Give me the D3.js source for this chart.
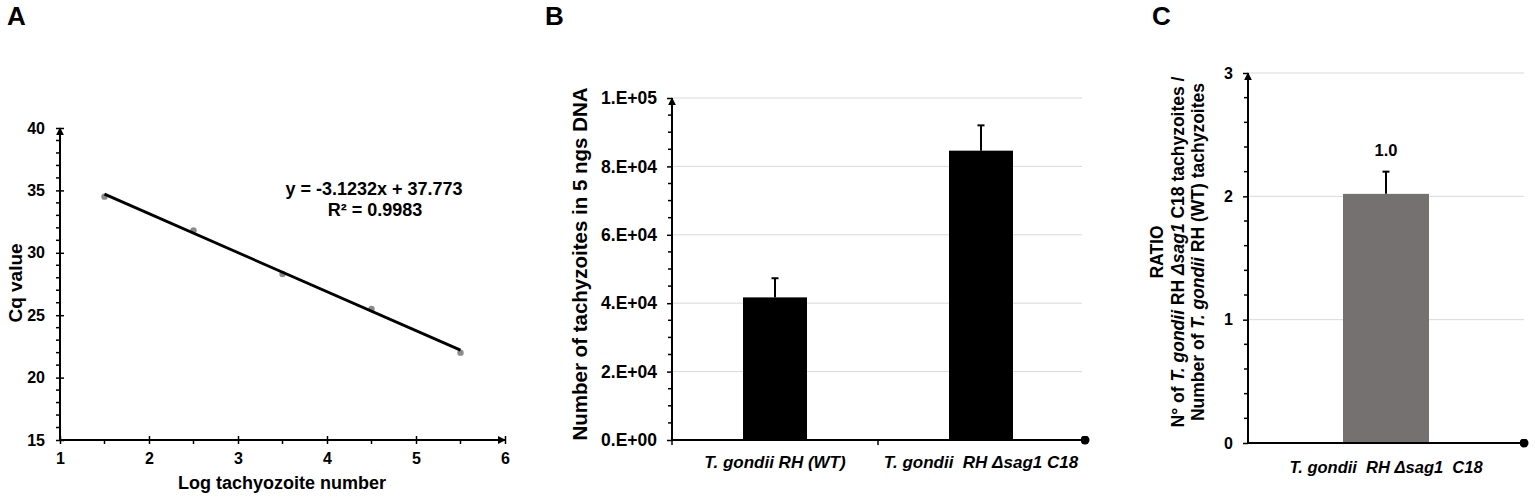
<!DOCTYPE html>
<html><head><meta charset="utf-8">
<script src="https://cdn.jsdelivr.net/npm/d3@7"></script>
<style>
html,body{margin:0;padding:0;background:#fff;}
svg{display:block;font-family:"Liberation Sans",Arial,sans-serif;}
text{fill:#000;}
</style></head>
<body>
<svg id="chart" width="1535" height="504"></svg>
<script>
// ---------- DATA ----------
// Panel A: standard curve
const logTachyzoites = [1.5, 2.5, 3.5, 4.5, 5.5];
const cqValues = [34.5, 31.8, 28.3, 25.5, 22.0];
const trendX = [1.5, 5.5];
const trendY = [34.7, 22.2];
const trendEquation = "y = -3.1232x + 37.773";
const trendR2 = "R² = 0.9983";
const xTicksA = [1, 2, 3, 4, 5, 6];
const yTicksA = [15, 20, 25, 30, 35, 40];

// Panel B: number of tachyzoites
const strainsB = ["T. gondii RH (WT)", "T. gondii  RH Δsag1 C18"];
const countsB = [41700, 84600];
const errorsB = [5600, 7400];
const yTicksB = [0, 20000, 40000, 60000, 80000, 100000];
const yTickLabelsB = ["0.E+00", "2.E+04", "4.E+04", "6.E+04", "8.E+04", "1.E+05"];

// Panel C: ratio
const strainsC = ["T. gondii  RH Δsag1  C18"];
const ratioC = [2.02];
const errorsC = [0.18];
const ratioLabels = ["1.0"];
const yTicksC = [0, 1, 2, 3];

// ---------- DRAWING ----------
const svg = d3.select("#chart");
const FONT = '"Liberation Sans",Arial,sans-serif';

const defs = svg.append("defs");
defs.append("marker").attr("id","arrow").attr("viewBox","0 0 10 10")
  .attr("refX",9).attr("refY",5).attr("markerWidth",4).attr("markerHeight",4)
  .attr("orient","auto").attr("markerUnits","strokeWidth")
  .append("path").attr("d","M0,0 L10,5 L0,10 z").attr("fill","#000");
defs.append("marker").attr("id","dot").attr("viewBox","0 0 10 10")
  .attr("refX",5).attr("refY",5).attr("markerWidth",4.5).attr("markerHeight",4.5)
  .attr("markerUnits","strokeWidth")
  .append("circle").attr("cx",5).attr("cy",5).attr("r",5).attr("fill","#000");

function panelLabel(t, x, y){
  svg.append("text").attr("x",x).attr("y",y).text(t)
    .attr("font-size",26).attr("font-weight","bold");
}
panelLabel("A", 7, 25);
panelLabel("B", 545, 25);
panelLabel("C", 1152, 25);

function styleTicks(g, size){
  g.select(".domain").remove();
  g.selectAll(".tick line").attr("stroke","#000").attr("stroke-width",1.5);
  g.selectAll(".tick text").attr("font-family",FONT).attr("font-size",size)
    .attr("font-weight","bold").attr("fill","#000");
}

// ===== Panel A =====
const xA = d3.scaleLinear().domain([1,6]).range([60,505]);
const yA = d3.scaleLinear().domain([15,40]).range([440,128]);
const gA = svg.append("g");

const yMinorA = d3.range(15,40,1).filter(v=>v%5!==0);
gA.selectAll(".ymA").data(yMinorA).join("line")
  .attr("x1",xA(1)-4).attr("x2",xA(1)).attr("y1",d=>yA(d)).attr("y2",d=>yA(d))
  .attr("stroke","#000").attr("stroke-width",1.5);
const xMinorA = d3.range(1.5,6,1);
gA.selectAll(".xmA").data(xMinorA).join("line")
  .attr("x1",d=>xA(d)).attr("x2",d=>xA(d)).attr("y1",yA(15)).attr("y2",yA(15)+4)
  .attr("stroke","#000").attr("stroke-width",1.5);

const gyA = gA.append("g").attr("transform",`translate(${xA(1)},0)`)
  .call(d3.axisLeft(yA).tickValues(yTicksA).tickFormat(d3.format("d")).tickSize(4).tickPadding(11).tickSizeOuter(0));
const gxA = gA.append("g").attr("transform",`translate(0,${yA(15)})`)
  .call(d3.axisBottom(xA).tickValues(xTicksA).tickFormat(d3.format("d")).tickSize(4).tickPadding(9).tickSizeOuter(0));
styleTicks(gyA,16);
styleTicks(gxA,16);
gyA.selectAll(".tick line").attr("x1",4).attr("x2",-4);
gxA.selectAll(".tick line").attr("y1",-4).attr("y2",4);
gxA.selectAll(".tick text").attr("dy","0.71em");

gA.append("line").attr("x1",xA(1)).attr("x2",xA(1)).attr("y1",yA(15)).attr("y2",yA(40))
  .attr("stroke","#000").attr("stroke-width",2).attr("marker-end","url(#arrow)");
gA.append("line").attr("x1",xA(1)).attr("x2",xA(6)).attr("y1",yA(15)).attr("y2",yA(15))
  .attr("stroke","#000").attr("stroke-width",2).attr("marker-end","url(#arrow)");

gA.selectAll(".pt").data(logTachyzoites).join("circle")
  .attr("cx",d=>xA(d)).attr("cy",(d,i)=>yA(cqValues[i])).attr("r",3.2)
  .attr("fill","#8c8c8c");
gA.append("path").datum(trendX.map((x,i)=>[x,trendY[i]]))
  .attr("d",d3.line().x(d=>xA(d[0])).y(d=>yA(d[1])))
  .attr("stroke","#000").attr("stroke-width",2.8).attr("fill","none");

gA.append("text").attr("x",374).attr("y",195).attr("text-anchor","middle")
  .attr("font-size",18).attr("font-weight","bold").text(trendEquation);
gA.append("text").attr("x",375).attr("y",216).attr("text-anchor","middle")
  .attr("font-size",18).attr("font-weight","bold").text(trendR2);

gA.append("text").attr("transform","translate(22,283) rotate(-90)").attr("text-anchor","middle")
  .attr("font-size",19).attr("font-weight","bold").text("Cq value");
gA.append("text").attr("x",282).attr("y",489).attr("text-anchor","middle")
  .attr("font-size",18).attr("font-weight","bold").text("Log tachyozoite number");

// ===== Panel B =====
const xB = d3.scaleBand().domain(strainsB).range([672,1084]);
const yB = d3.scaleLinear().domain([0,100000]).range([440,98]);
const gB = svg.append("g");
const barWB = 64;

gB.selectAll(".gridB").data(yTicksB.filter(v=>v>0)).join("line")
  .attr("x1",672).attr("x2",1082).attr("y1",d=>yB(d)).attr("y2",d=>yB(d))
  .attr("stroke","#d9d9d9").attr("stroke-width",1);

const yMinorB = d3.range(5000,100000,5000).filter(v=>v%20000!==0);
gB.selectAll(".ymB").data(yMinorB).join("line")
  .attr("x1",672-4).attr("x2",672).attr("y1",d=>yB(d)).attr("y2",d=>yB(d))
  .attr("stroke","#000").attr("stroke-width",1.5);

const gyB = gB.append("g").attr("transform","translate(672,0)")
  .call(d3.axisLeft(yB).tickValues(yTicksB).tickFormat((d,i)=>yTickLabelsB[i]).tickSize(5).tickPadding(10).tickSizeOuter(0));
styleTicks(gyB,17.5);

const sepB = [xB.range()[0], xB(strainsB[1])];
gB.selectAll(".sepB").data(sepB).join("line")
  .attr("x1",d=>d).attr("x2",d=>d).attr("y1",440).attr("y2",445)
  .attr("stroke","#000").attr("stroke-width",1.5);

gB.selectAll(".barB").data(strainsB).join("rect")
  .attr("x",d=>xB(d)+xB.bandwidth()/2-barWB/2).attr("width",barWB)
  .attr("y",(d,i)=>yB(countsB[i])).attr("height",(d,i)=>yB(0)-yB(countsB[i]))
  .attr("fill","#000");
gB.selectAll(".errB").data(strainsB).join("line")
  .attr("x1",d=>xB(d)+xB.bandwidth()/2).attr("x2",d=>xB(d)+xB.bandwidth()/2)
  .attr("y1",(d,i)=>yB(countsB[i])).attr("y2",(d,i)=>yB(countsB[i]+errorsB[i]))
  .attr("stroke","#000").attr("stroke-width",2);
gB.selectAll(".capB").data(strainsB).join("line")
  .attr("x1",d=>xB(d)+xB.bandwidth()/2-3.5).attr("x2",d=>xB(d)+xB.bandwidth()/2+3.5)
  .attr("y1",(d,i)=>yB(countsB[i]+errorsB[i])).attr("y2",(d,i)=>yB(countsB[i]+errorsB[i]))
  .attr("stroke","#000").attr("stroke-width",2);

gB.append("line").attr("x1",672).attr("x2",672).attr("y1",440).attr("y2",yB(100000))
  .attr("stroke","#000").attr("stroke-width",2).attr("marker-end","url(#arrow)");
gB.append("line").attr("x1",672).attr("x2",1085).attr("y1",440).attr("y2",440)
  .attr("stroke","#000").attr("stroke-width",2).attr("marker-end","url(#dot)");

gB.selectAll(".catB").data(strainsB).join("text")
  .attr("x",d=>xB(d)+xB.bandwidth()/2).attr("y",468).attr("text-anchor","middle")
  .attr("font-size",17).attr("font-weight","bold").attr("font-style","italic")
  .style("white-space","pre").text(d=>d);

gB.append("text").attr("transform","translate(587,264) rotate(-90)").attr("text-anchor","middle")
  .attr("font-size",20.5).attr("font-weight","bold").text("Number of tachyzoites in 5 ngs DNA");

// ===== Panel C =====
const xC = d3.scaleBand().domain(strainsC).range([1248,1524]);
const yC = d3.scaleLinear().domain([0,3]).range([443,73]);
const gC = svg.append("g");
const barWC = 86;

gC.selectAll(".gridC").data(yTicksC.filter(v=>v>0)).join("line")
  .attr("x1",1248).attr("x2",1524).attr("y1",d=>yC(d)).attr("y2",d=>yC(d))
  .attr("stroke","#d9d9d9").attr("stroke-width",1);

const yMinorC = d3.range(0.2,3,0.2).filter(v=>Math.abs(v-Math.round(v))>0.01);
gC.selectAll(".ymC").data(yMinorC).join("line")
  .attr("x1",1248-4).attr("x2",1248).attr("y1",d=>yC(d)).attr("y2",d=>yC(d))
  .attr("stroke","#000").attr("stroke-width",1.5);

const gyC = gC.append("g").attr("transform","translate(1248,0)")
  .call(d3.axisLeft(yC).tickValues(yTicksC).tickFormat(d3.format("d")).tickSize(5).tickPadding(10).tickSizeOuter(0));
styleTicks(gyC,16);

gC.selectAll(".barC").data(strainsC).join("rect")
  .attr("x",d=>xC(d)+xC.bandwidth()/2-barWC/2).attr("width",barWC)
  .attr("y",(d,i)=>yC(ratioC[i])).attr("height",(d,i)=>yC(0)-yC(ratioC[i]))
  .attr("fill","#767171");
gC.selectAll(".errC").data(strainsC).join("line")
  .attr("x1",d=>xC(d)+xC.bandwidth()/2).attr("x2",d=>xC(d)+xC.bandwidth()/2)
  .attr("y1",(d,i)=>yC(ratioC[i])).attr("y2",(d,i)=>yC(ratioC[i]+errorsC[i]))
  .attr("stroke","#000").attr("stroke-width",2);
gC.selectAll(".capC").data(strainsC).join("line")
  .attr("x1",d=>xC(d)+xC.bandwidth()/2-3.5).attr("x2",d=>xC(d)+xC.bandwidth()/2+3.5)
  .attr("y1",(d,i)=>yC(ratioC[i]+errorsC[i])).attr("y2",(d,i)=>yC(ratioC[i]+errorsC[i]))
  .attr("stroke","#000").attr("stroke-width",2);
gC.selectAll(".lblC").data(strainsC).join("text")
  .attr("x",d=>xC(d)+xC.bandwidth()/2).attr("y",156).attr("text-anchor","middle")
  .attr("font-size",16.5).attr("font-weight","bold").text((d,i)=>ratioLabels[i]);

gC.append("line").attr("x1",1248).attr("x2",1248).attr("y1",443).attr("y2",yC(3))
  .attr("stroke","#000").attr("stroke-width",2).attr("marker-end","url(#arrow)");
gC.append("line").attr("x1",1248).attr("x2",1524).attr("y1",443).attr("y2",443)
  .attr("stroke","#000").attr("stroke-width",2).attr("marker-end","url(#dot)");

gC.selectAll(".catC").data(strainsC).join("text")
  .attr("x",d=>xC(d)+xC.bandwidth()/2).attr("y",472.5).attr("text-anchor","middle")
  .attr("font-size",16.5).attr("font-weight","bold").attr("font-style","italic")
  .style("white-space","pre").text(d=>d);

const titleC = [
  [["RATIO",false]],
  [["N° of ",false],["T. gondii",true],[" RH ",false],["Δsag1",true],[" C18 tachyzoites /",false]],
  [["Number of ",false],["T. gondii",true],[" RH (WT) tachyzoites",false]]
];
const titleX = [1163, 1184, 1204];
titleC.forEach((parts,li)=>{
  const t = gC.append("text").attr("transform",`translate(${titleX[li]},252) rotate(-90)`)
    .attr("text-anchor","middle").attr("font-size",17.5).attr("font-weight","bold")
    .style("white-space","pre");
  parts.forEach(p=>t.append("tspan").attr("font-style",p[1]?"italic":"normal").text(p[0]));
});
</script>
</body></html>
